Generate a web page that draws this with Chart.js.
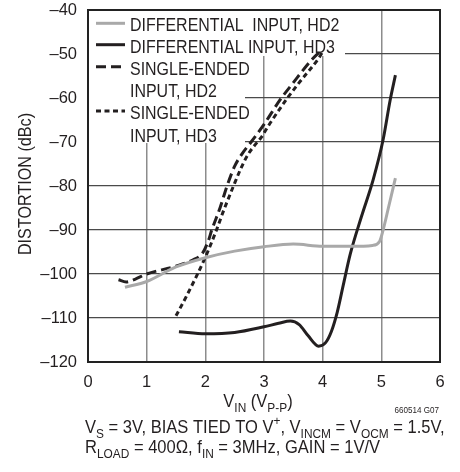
<!DOCTYPE html>
<html>
<head>
<meta charset="utf-8">
<script src="https://cdn.jsdelivr.net/npm/chart.js@4"></script>
<style>
  html, body { margin: 0; padding: 0; background: #fff; }
  #wrap { width: 460px; height: 472px; }
</style>
</head>
<body>
<div id="wrap"><canvas id="chart" width="460" height="472"></canvas></div>
<script>
const FONT = "'Liberation Sans', Arial, sans-serif";
const SQ = 0.84; // the original lettering is a condensed face

// values (x = VIN in Vp-p, y = distortion in dBc)
const diffHD2_x = [0.63, 1.0, 1.5, 2.0, 2.5, 3.0, 3.5, 4.0, 4.5, 4.85, 4.97, 5.04, 5.12, 5.24];
const diffHD2_y = [-103, -101.7, -98.4, -96.3, -94.8, -93.8, -93.2, -93.7, -93.7, -93.5, -92.6, -89.5, -85, -78.2];

const diffHD3_x = [1.55, 2.0, 2.5, 3.0, 3.25, 3.45, 3.6, 3.75, 3.93, 4.05, 4.15, 4.25, 4.35, 4.47, 4.66, 4.86, 5.03, 5.15, 5.24];
const diffHD3_y = [-113.1, -113.6, -113.3, -112, -111.2, -110.7, -111.5, -114, -116.4, -115.6, -113, -108.6, -102.6, -95.5, -87, -78.6, -69.5, -60.5, -54.8];

const seHD2_x = [0.52, 0.65, 0.8, 1.0, 1.5, 1.8, 1.95, 2.05, 2.11, 2.25, 2.37, 2.5, 2.62, 2.78, 3.0, 3.27, 3.5, 3.8, 3.95];
const seHD2_y = [-101.3, -101.8, -101.2, -100, -98.2, -96.7, -95.3, -92.5, -90, -85, -80, -75.5, -72.8, -70, -66, -60.5, -56.5, -51.5, -49.5];

const seHD3_x = [1.5, 1.68, 2.0, 2.19, 2.3, 2.48, 2.6, 2.72, 2.85, 2.95, 3.1, 3.4, 3.6, 3.93, 4.0];
const seHD3_y = [-109.5, -105, -96.2, -90, -86, -80, -76.2, -73, -70.6, -69, -65.8, -60, -56.5, -51, -49.5];

const xTicks = [0, 1, 2, 3, 4, 5, 6];
const yTicks = [-120, -110, -100, -90, -80, -70, -60, -50, -40];

const seriesNames = ["DIFFERENTIAL  INPUT, HD2", "DIFFERENTIAL INPUT, HD3", "SINGLE-ENDED", "INPUT, HD2", "SINGLE-ENDED", "INPUT, HD3"];

function pts(xs, ys) {
  return xs.map((x, i) => ({ x: x, y: ys[i] }));
}

const GRAY = "#a9a9a9";
const BLACK = "#231f20";

// text squeezed sideways, with sub/superscript pieces
function drawRich(ctx, x, y, parts, size, align, sq) {
  let w = 0;
  parts.forEach((p) => {
    ctx.font = (p[1] === "n" ? size : size * 0.72) + "px " + FONT;
    w += ctx.measureText(p[0]).width;
  });
  w *= sq;
  let cx = align === "center" ? x - w / 2 : align === "right" ? x - w : x;
  ctx.save();
  ctx.translate(cx, y);
  ctx.scale(sq, 1);
  ctx.textAlign = "left";
  ctx.textBaseline = "alphabetic";
  let px = 0;
  parts.forEach((p) => {
    let s = p[1] === "n" ? size : size * 0.72;
    ctx.font = s + "px " + FONT;
    let dy = p[1] === "sub" ? size * 0.25 : p[1] === "sup" ? -size * 0.42 : 0;
    ctx.fillText(p[0], px, dy);
    px += ctx.measureText(p[0]).width;
  });
  ctx.restore();
}

const decor = {
  id: "decor",
  beforeDatasetsDraw(chart) {
    // white patches behind the legend text
    const ctx = chart.ctx;
    ctx.save();
    ctx.fillStyle = "#fff";
    ctx.fillRect(89, 11, 256, 45);
    ctx.fillRect(89, 56, 156, 87);
    ctx.restore();
  },
  afterDraw(chart) {
    const ctx = chart.ctx;
    const a = chart.chartArea;
    const sx = chart.scales.x, sy = chart.scales.y;
    ctx.save();
    ctx.strokeStyle = "#222";
    ctx.lineWidth = 2;
    ctx.strokeRect(a.left, a.top, a.right - a.left, a.bottom - a.top);
    ctx.fillStyle = BLACK;

    // tick labels
    ctx.font = "16.5px " + FONT;
    ctx.textBaseline = "middle";
    ctx.textAlign = "center";
    sx.ticks.forEach((t) => ctx.fillText(String(t.value), sx.getPixelForValue(t.value), a.bottom + 20));
    ctx.textAlign = "right";
    sy.ticks.forEach((t) => ctx.fillText("\u2013" + Math.abs(t.value), a.left - 11, sy.getPixelForValue(t.value)));

    // legend
    const rows = [30.7, 53, 75, 97, 119.3, 141.5];
    seriesNames.forEach((t, i) => drawRich(ctx, 130, rows[i], [[t, "n"]], 19, "left", SQ));
    const samples = [
      [23.3, GRAY, []],
      [44.7, BLACK, []],
      [66.8, BLACK, [10, 5]],
      [111, BLACK, [5, 3.5]],
    ];
    samples.forEach((s) => {
      ctx.beginPath();
      ctx.strokeStyle = s[1];
      ctx.lineWidth = 3;
      ctx.setLineDash(s[2]);
      ctx.moveTo(96, s[0]);
      ctx.lineTo(125, s[0]);
      ctx.stroke();
    });
    ctx.setLineDash([]);

    // y title
    ctx.save();
    ctx.translate(31, 184);
    ctx.rotate(-Math.PI / 2);
    drawRich(ctx, 0, 0, [["DISTORTION (dBc)", "n"]], 19, "center", 0.85);
    ctx.restore();

    // x title
    drawRich(ctx, 258, 407, [["V", "n"], ["IN", "sub"], [" (V", "n"], ["P-P", "sub"], [")", "n"]], 19, "center", 0.87);

    drawRich(ctx, 439, 413, [["660514 G07", "n"]], 9.5, "right", 0.85);

    drawRich(ctx, 85, 433, [["V", "n"], ["S", "sub"], [" = 3V, BIAS TIED TO V", "n"], ["+", "sup"], [", V", "n"], ["INCM", "sub"], [" = V", "n"], ["OCM", "sub"], [" = 1.5V,", "n"]], 19, "left", 0.87);
    drawRich(ctx, 85, 453, [["R", "n"], ["LOAD", "sub"], [" = 400\u03a9, f", "n"], ["IN", "sub"], [" = 3MHz, GAIN = 1V/V", "n"]], 19, "left", 0.87);
    ctx.restore();
  },
};

function lineSet(label, data, color, dash) {
  return {
    label: label,
    data: data,
    borderColor: color,
    borderWidth: 3,
    borderDash: dash,
    pointRadius: 0,
    fill: false,
    cubicInterpolationMode: "monotone",
  };
}

new Chart(document.getElementById("chart"), {
  type: "line",
  data: {
    datasets: [
      lineSet("DIFFERENTIAL INPUT, HD2", pts(diffHD2_x, diffHD2_y), GRAY, []),
      lineSet("DIFFERENTIAL INPUT, HD3", pts(diffHD3_x, diffHD3_y), BLACK, []),
      lineSet("SINGLE-ENDED INPUT, HD2", pts(seHD2_x, seHD2_y), BLACK, [10, 5]),
      lineSet("SINGLE-ENDED INPUT, HD3", pts(seHD3_x, seHD3_y), BLACK, [5, 3.5]),
    ],
  },
  options: {
    responsive: false,
    animation: false,
    devicePixelRatio: 1,
    layout: { padding: { left: 0, right: 20, top: 10, bottom: 0 } },
    plugins: { legend: { display: false }, tooltip: { enabled: false } },
    scales: {
      x: {
        type: "linear",
        min: 0,
        max: 6,
        afterBuildTicks: (s) => { s.ticks = xTicks.map((v) => ({ value: v })); },
        afterFit: (s) => { s.height = 110; },
        grid: { color: "#8c8c8c", lineWidth: 1.5, drawTicks: false },
        border: { display: false },
        ticks: { display: false },
      },
      y: {
        type: "linear",
        min: -120,
        max: -40,
        afterBuildTicks: (s) => { s.ticks = yTicks.map((v) => ({ value: v })); },
        afterFit: (s) => { s.width = 88; },
        grid: { color: "#4a4a4a", lineWidth: 1.2, drawTicks: false },
        border: { display: false },
        ticks: { display: false },
      },
    },
  },
  plugins: [decor],
});
</script>
</body>
</html>
